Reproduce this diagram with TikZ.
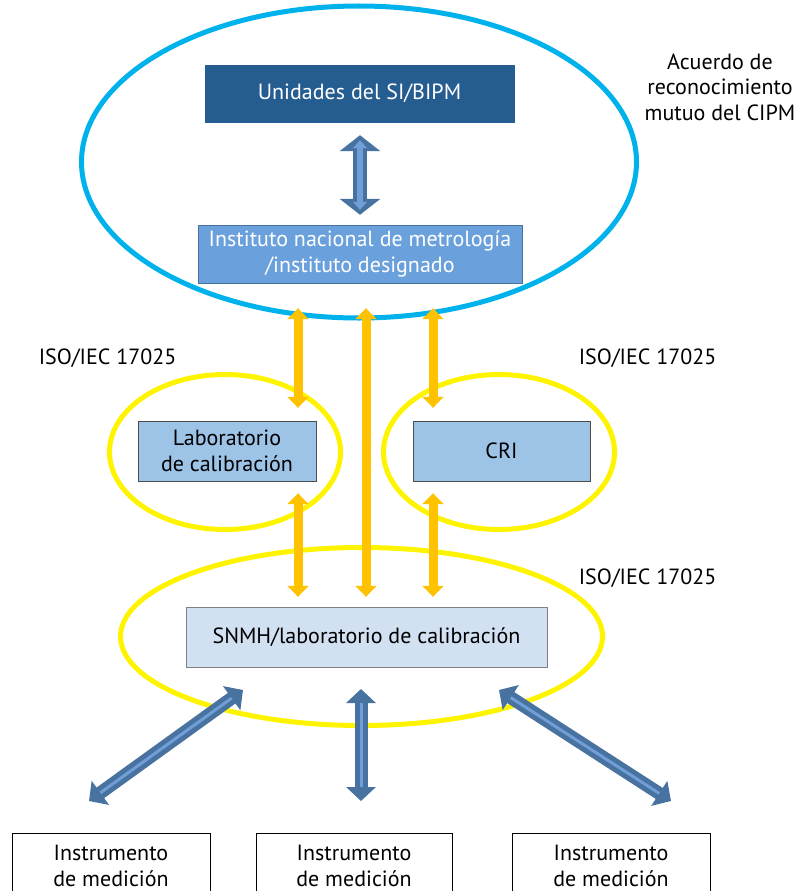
\documentclass[tikz,border=0pt]{standalone}
\usepackage{fontspec}
\setmainfont{PT Sans}
\usetikzlibrary{arrows.meta, shapes.geometric, positioning}

\definecolor{cipmblue}{RGB}{0,178,236}
\definecolor{sidark}{RGB}{38,93,144}
\definecolor{inmblue}{RGB}{106,160,220}
\definecolor{inmline}{RGB}{70,114,160}
\definecolor{labblue}{RGB}{157,195,230}
\definecolor{snmhblue}{RGB}{210,225,242}
\definecolor{ringyellow}{RGB}{255,244,0}
\definecolor{arrowyellow}{RGB}{255,194,0}
\definecolor{arrowblue}{RGB}{72,114,160}
\definecolor{arrowshine}{RGB}{112,158,214}

\begin{document}
\begin{tikzpicture}[x=1pt, y=-1pt, font=\fontsize{22}{25.5}\selectfont,
  box/.style={draw=inmline, rectangle, align=center, inner sep=0pt},
  ring/.style={draw, ellipse, line width=5pt, inner sep=0pt},
  yarrow/.style={draw=arrowyellow, line width=9pt,
    {Triangle[width=21pt,length=11pt]}-{Triangle[width=21pt,length=11pt]}},
  barrow/.style={draw=arrowblue, line width=13pt,
    {Triangle[width=29pt,length=14pt]}-{Triangle[width=29pt,length=14pt]}},
  bshine/.style={draw=arrowshine, line width=3pt, shorten <=14pt, shorten >=14pt},
  note/.style={align=center}]
\clip (0,0) rectangle (803,891);

% ellipses
\node[ring, draw=cipmblue, minimum width=555, minimum height=312] (cipm) at (359,162) {};
\node[ring, draw=ringyellow, minimum width=231, minimum height=155] (ringlab) at (225,452) {};
\node[ring, draw=ringyellow, minimum width=231, minimum height=155] (ringcri) at (499,452) {};
\node[ring, draw=ringyellow, minimum width=482, minimum height=178] (ringsnmh) at (361.5,636.5) {};

% boxes
\node[box, fill=sidark, draw=sidark, text=white, minimum width=309, minimum height=57] (unidades) at (359.5,93.5) {Unidades del SI/BIPM};
\node[box, fill=inmblue, text=white, minimum width=324, minimum height=58] (instituto) at (360,254) {Instituto nacional de metrología\\/instituto designado};
\node[box, fill=labblue, draw=black!70, minimum width=178, minimum height=60] (laboratorio) at (227,451) {Laboratorio\\de calibración};
\node[box, fill=labblue, draw=black!70, minimum width=177, minimum height=60] (cri) at (501.5,451) {CRI};
\node[box, fill=snmhblue, draw=black!50, minimum width=361, minimum height=60] (snmh) at (366.5,637) {SNMH/laboratorio de calibración};
\node[box, draw=black, minimum width=198, minimum height=66] (instr1) at (111,866) {Instrumento\\de medición};
\node[box, draw=black, minimum width=196, minimum height=66] (instr2) at (354,866) {Instrumento\\de medición};
\node[box, draw=black, minimum width=198, minimum height=66] (instr3) at (611,866) {Instrumento\\de medición};

% texts
\node[note] (acuerdo) at (720,87) {Acuerdo de\\reconocimiento\\mutuo del CIPM};
\node (isolab) at (107.5,358) {ISO/IEC 17025};
\node (isocri) at (647.5,358) {ISO/IEC 17025};
\node (isosnmh) at (647.5,578) {ISO/IEC 17025};

% top arrow
\draw[draw=arrowblue, line width=14pt, shorten <=13pt, shorten >=10pt,
  {Triangle[width=40pt,length=16pt]}-{Triangle[width=40pt,length=16pt]}]
  (unidades.south -| 360,0) -- (instituto.north -| 360,0);
\draw[draw=arrowshine, line width=6pt, shorten <=18pt, shorten >=15pt,
  {Triangle[width=14pt,length=8pt]}-{Triangle[width=14pt,length=8pt]}]
  (unidades.south -| 360,0) -- (instituto.north -| 360,0);

% yellow arrows
\coordinate (xl) at (298,0);
\coordinate (xc) at (366,0);
\coordinate (xr) at (433,0);
\draw[yarrow, shorten <=25pt, shorten >=13pt] (instituto.south -| xl) -- (laboratorio.north -| xl);
\draw[yarrow, shorten <=12pt, shorten >=10pt] (laboratorio.south -| xl) -- (snmh.north -| xl);
\draw[yarrow, shorten <=25pt, shorten >=10pt] (instituto.south -| xc) -- (snmh.north -| xc);
\draw[yarrow, shorten <=25pt, shorten >=13pt] (instituto.south -| xr) -- (cri.north -| xr);
\draw[yarrow, shorten <=12pt, shorten >=10pt] (cri.south -| xr) -- (snmh.north -| xr);

% blue arrows
\coordinate (a1) at (243,690);
\coordinate (b1) at (89,801);
\coordinate (a2) at (361,689);
\coordinate (b2) at (361,801);
\coordinate (a3) at (499,690);
\coordinate (b3) at (671,801);
\foreach \i in {1,2,3}{
  \draw[barrow] (a\i) -- (b\i);
  \draw[bshine] (a\i) -- (b\i);
}
\end{tikzpicture}
\end{document}
